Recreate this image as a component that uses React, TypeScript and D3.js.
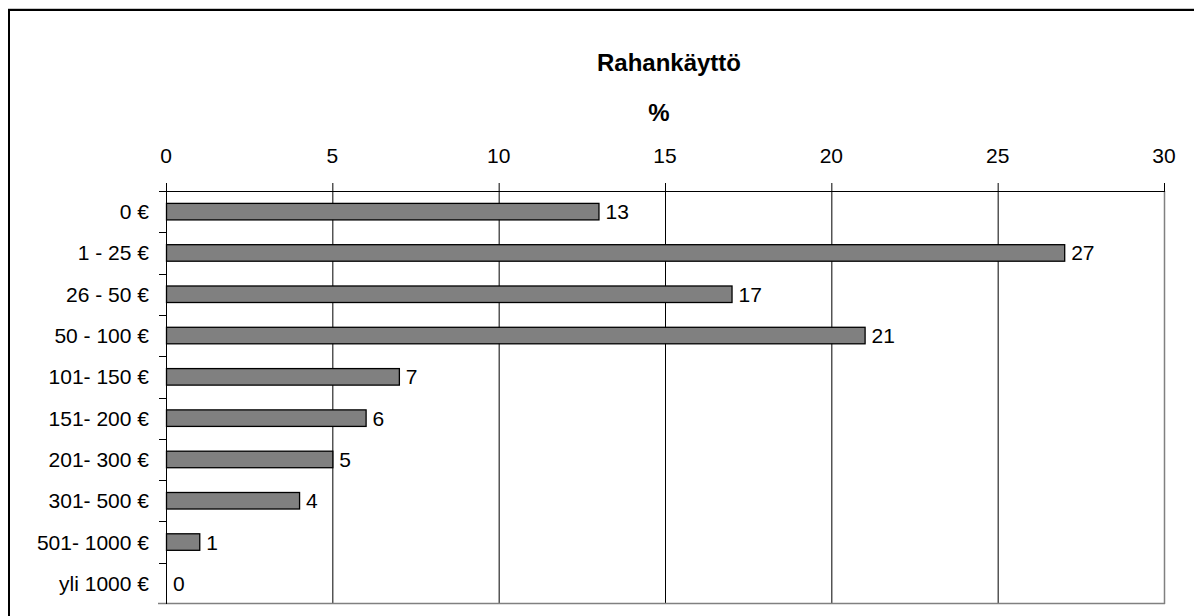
import React from "react";
import * as d3 from "d3";

const categories = ["0 €", "1 - 25 €", "26 - 50 €", "50 - 100 €", "101- 150 €", "151- 200 €", "201- 300 €", "301- 500 €", "501- 1000 €", "yli 1000 €"];
const values = [13, 27, 17, 21, 7, 6, 5, 4, 1, 0];
const xTicks = [0, 5, 10, 15, 20, 25, 30];
const title = "Rahankäyttö";
const axisTitle = "%";

export default function App() {
  const W = 1194, H = 616;
  const left = 166, right = 1164, top = 191, bottom = 604;
  const x = d3.scaleLinear().domain([0, 30]).range([left, right]);
  const y = d3.scaleBand<string>().domain(categories).range([top, bottom]).paddingInner(0.6).paddingOuter(0.3);
  const step = (bottom - top) / categories.length;
  const font = "Arial, 'Liberation Sans', sans-serif";
  return (
    <svg width={W} height={H} style={{ position: "absolute", left: 0, top: 0, background: "#fff" }} fontFamily={font}>
      <rect x={0} y={0} width={W} height={H} fill="#fff" />
      {/* outer frame */}
      <line x1={8} x2={W} y1={8.5} y2={8.5} stroke="#c8c8c8" strokeWidth={1} />
      <rect x={9} y={10} width={W + 20} height={H + 20} fill="none" stroke="#000" strokeWidth={2} />
      {/* title */}
      <text x={669} y={71} textAnchor="middle" fontSize={24} fontWeight="bold">{title}</text>
      <text x={659} y={121} textAnchor="middle" fontSize={24} fontWeight="bold">{axisTitle}</text>
      {/* gridlines */}
      {xTicks.slice(1, -1).map((t) => (
        <line key={t} x1={x(t) + 0.5} x2={x(t) + 0.5} y1={top} y2={bottom} stroke="#000" strokeWidth={1} />
      ))}
      {/* plot frame right/bottom */}
      <line x1={right + 0.5} x2={right + 0.5} y1={top} y2={bottom} stroke="#808080" strokeWidth={1.5} />
      <line x1={158} x2={right + 1} y1={bottom - 0.5} y2={bottom - 0.5} stroke="#808080" strokeWidth={1.5} />
      {/* top axis */}
      <line x1={159} x2={right + 1} y1={top + 0.5} y2={top + 0.5} stroke="#000" strokeWidth={1} />
      {xTicks.map((t) => (
        <g key={t}>
          <line x1={x(t) + 0.5} x2={x(t) + 0.5} y1={top - 8} y2={top} stroke="#000" strokeWidth={1} />
          <text x={x(t)} y={163} textAnchor="middle" fontSize={21}>{t}</text>
        </g>
      ))}
      {/* left axis */}
      <line x1={left + 0.5} x2={left + 0.5} y1={top - 8} y2={bottom} stroke="#000" strokeWidth={1} />
      {categories.map((c, i) => (
        <line key={"t" + i} x1={159} x2={left} y1={Math.round(top + step * i) + 0.5} y2={Math.round(top + step * i) + 0.5} stroke="#000" strokeWidth={1} />
      ))}
      {/* bars */}
      {categories.map((c, i) => {
        const v = values[i];
        const yy = y(c)!;
        return (
          <g key={c}>
            {v > 0 && (
              <rect x={x(0) + 0.5} y={yy} width={x(v) - x(0)} height={y.bandwidth()} fill="#808080" stroke="#000" strokeWidth={1.3} />
            )}
            <text x={x(v) + 7} y={yy + y.bandwidth() / 2 + 7.5} fontSize={21}>{v}</text>
            <text x={149} y={yy + y.bandwidth() / 2 + 7.5} textAnchor="end" fontSize={21}>{c}</text>
          </g>
        );
      })}
    </svg>
  );
}
